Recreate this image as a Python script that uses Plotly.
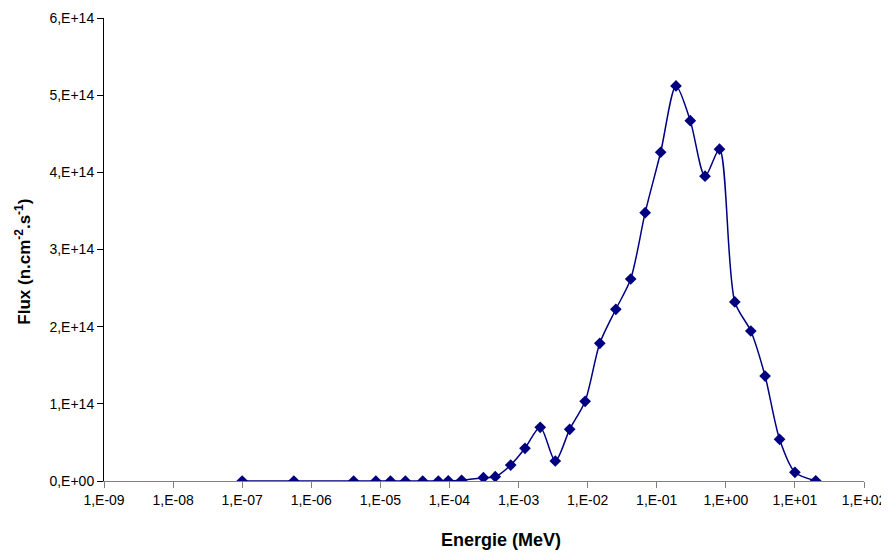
import plotly.graph_objects as go

energy = [1.0e-7, 5.6e-7, 4.1e-6, 8.6e-6, 1.4e-5, 2.3e-5, 4.1e-5, 6.9e-5, 9.6e-5,
          1.5e-4, 3.1e-4, 4.6e-4, 7.7e-4, 1.24e-3, 2.06e-3, 3.4e-3, 5.5e-3, 9.2e-3,
          1.5e-2, 2.56e-2, 4.2e-2, 6.8e-2, 0.114, 0.19, 0.306, 0.50, 0.81, 1.35,
          2.3, 3.7, 6.0, 10.0, 20.0]
flux = [0.0, 0.0, 0.0, 0.0, 0.0, 0.0, 0.0, 0.0, 0.002,
        0.01, 0.043, 0.056, 0.207, 0.424, 0.696, 0.259, 0.67, 1.033,
        1.784, 2.225, 2.618, 3.477, 4.26, 5.12, 4.67, 3.95, 4.30, 2.32,
        1.944, 1.36, 0.54, 0.113, 0.003]
flux = [v * 1e14 for v in flux]

x_tickvals = [1e-9, 1e-8, 1e-7, 1e-6, 1e-5, 1e-4, 1e-3, 1e-2, 1e-1, 1e0, 1e1, 1e2]
x_ticktext = ["1,E-09", "1,E-08", "1,E-07", "1,E-06", "1,E-05", "1,E-04", "1,E-03",
              "1,E-02", "1,E-01", "1,E+00", "1,E+01", "1,E+02"]
y_tickvals = [0, 1e14, 2e14, 3e14, 4e14, 5e14, 6e14]
y_ticktext = ["0,E+00", "1,E+14", "2,E+14", "3,E+14", "4,E+14", "5,E+14", "6,E+14"]
x_title = "<b>Energie (MeV)</b>"
y_title = "<b>Flux (n.cm<sup>-2</sup>.s<sup>-1</sup>)</b>"

fig = go.Figure()
fig.add_trace(go.Scatter(
    x=energy, y=flux, mode="lines+markers",
    line=dict(color="#000080", width=1.5, shape="spline", smoothing=0.8),
    marker=dict(symbol="diamond", size=9, color="#000080"),
    showlegend=False, hoverinfo="skip",
))

# page body has an 8px default margin, so the figure is sized/offset to compensate
fig.update_layout(
    width=881, height=544,
    margin=dict(l=96, r=25, t=10, b=71),
    paper_bgcolor="white", plot_bgcolor="white",
    font=dict(family="Liberation Sans, Arial, sans-serif", size=14, color="black"),
    xaxis=dict(
        type="log", range=[-9, 2], automargin=False,
        tickvals=x_tickvals, ticktext=x_ticktext,
        showgrid=False, zeroline=False,
        showline=True, linecolor="#808080", linewidth=1,
        ticks="outside", ticklen=6, tickcolor="#808080",
        tickfont=dict(size=14),
    ),
    yaxis=dict(
        range=[0, 6e14], automargin=False,
        tickvals=y_tickvals, ticktext=y_ticktext,
        showgrid=False, zeroline=False,
        showline=True, linecolor="black", linewidth=1,
        ticks="outside", ticklen=6, tickcolor="black",
        tickfont=dict(size=14),
    ),
    annotations=[
        dict(text=x_title, xref="paper", yref="paper", x=0.523, y=-0.127,
             xanchor="center", yanchor="middle", showarrow=False,
             font=dict(size=18)),
        dict(text=y_title, xref="paper", yref="paper", x=-0.107, y=0.473,
             xanchor="center", yanchor="middle", showarrow=False, textangle=-90,
             font=dict(size=17)),
    ],
)

fig.write_html("out.html", config={"displayModeBar": False})
